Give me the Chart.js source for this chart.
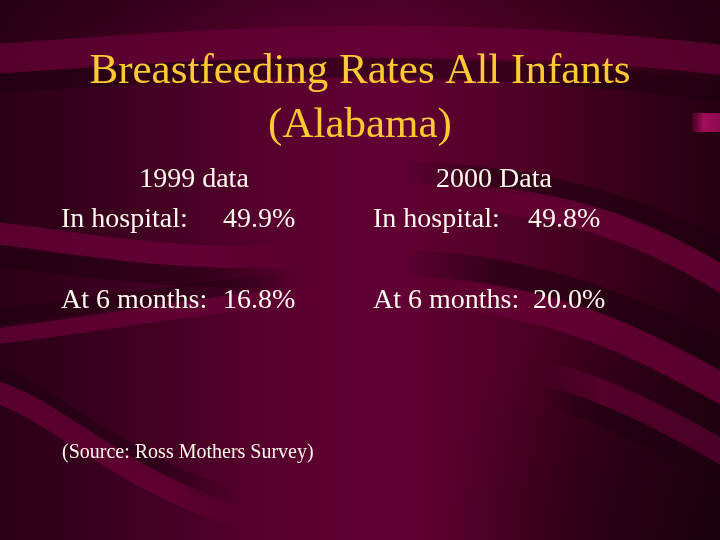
<!DOCTYPE html>
<html>
<head>
<meta charset="utf-8">
<title>Breastfeeding Rates All Infants (Alabama)</title>
<script src="https://cdn.jsdelivr.net/npm/chart.js@4.4.1/dist/chart.umd.min.js"></script>
<style>
  html, body { margin: 0; padding: 0; background: #3a001e; }
  canvas { display: block; }
</style>
</head>
<body>
<canvas id="slideChart" width="720" height="540"></canvas>
<script>
// slide data
const titleLines = ["Breastfeeding Rates All Infants", "(Alabama)"];
const years = ["1999", "2000"];
const yearWords = ["data", "Data"];
const rowLabels = ["In hospital:", "At 6 months:"];
const inHospital = [49.9, 49.8];
const atSixMonths = [16.8, 20.0];
const sourceNote = "(Source: Ross Mothers Survey)";

const serif = "'Liberation Serif', 'Times New Roman', serif";

// one ribbon: bezier path, stroked with a colour that fades out at the open end
function band(ctx, pts, width, rgb, alpha, fadeLeft, fadeRight) {
  const x0 = pts[0], x1 = pts[pts.length - 2];
  const g = ctx.createLinearGradient(x0, 0, x1, 0);
  const c = (a) => "rgba(" + rgb + "," + a + ")";
  g.addColorStop(0, c(fadeLeft ? 0 : alpha));
  g.addColorStop(0.3, c(alpha));
  g.addColorStop(0.7, c(alpha));
  g.addColorStop(1, c(fadeRight ? 0 : alpha));
  ctx.beginPath();
  ctx.moveTo(pts[0], pts[1]);
  for (let i = 2; i < pts.length; i += 6) {
    ctx.bezierCurveTo(pts[i], pts[i + 1], pts[i + 2], pts[i + 3], pts[i + 4], pts[i + 5]);
  }
  ctx.lineWidth = width;
  ctx.strokeStyle = g;
  ctx.lineCap = "butt";
  ctx.stroke();
}

const DARK = "28,0,14";
const LIGHT = "104,0,54";

const backgroundPlugin = {
  id: "slideBackground",
  beforeDraw(chart) {
    const ctx = chart.ctx;
    const w = chart.width, h = chart.height;
    ctx.save();

    const g = ctx.createLinearGradient(0, 0, w, 0);
    g.addColorStop(0, "#2a0015");
    g.addColorStop(0.15, "#3a001e");
    g.addColorStop(0.38, "#58002e");
    g.addColorStop(0.55, "#620034");
    g.addColorStop(0.75, "#4a0022");
    g.addColorStop(1, "#240010");
    ctx.fillStyle = g;
    ctx.fillRect(0, 0, w, h);

    // darker bottom right corner and top edge
    const r = ctx.createRadialGradient(720, 540, 20, 720, 540, 280);
    r.addColorStop(0, "rgba(25,0,12,0.8)");
    r.addColorStop(1, "rgba(25,0,12,0)");
    ctx.fillStyle = r;
    ctx.fillRect(0, 0, w, h);
    const t = ctx.createLinearGradient(0, 0, 0, 60);
    t.addColorStop(0, "rgba(30,0,15,0.35)");
    t.addColorStop(1, "rgba(30,0,15,0)");
    ctx.fillStyle = t;
    ctx.fillRect(0, 0, w, 60);

    // top ribbon with shadow
    band(ctx, [-20, 84, 180, 72, 420, 50, 740, 94], 20, DARK, 0.5, false, false);
    band(ctx, [-20, 60, 180, 46, 420, 24, 740, 62], 30, LIGHT, 0.7, false, false);

    // left ribbon under the first row
    band(ctx, [-20, 256, 60, 262, 160, 282, 300, 278], 20, DARK, 0.5, false, true);
    band(ctx, [-20, 232, 60, 238, 150, 262, 300, 256], 22, LIGHT, 0.8, false, true);

    // ribbon rising from left edge
    band(ctx, [-20, 318, 80, 310, 160, 292, 300, 280], 16, DARK, 0.45, false, true);
    band(ctx, [-20, 338, 80, 328, 170, 308, 320, 294], 16, LIGHT, 0.75, false, true);

    // S-curve ribbon on lower left
    band(ctx, [-20, 370, 40, 378, 100, 458, 240, 500], 18, DARK, 0.45, false, true);
    band(ctx, [-20, 388, 50, 400, 110, 480, 250, 520], 22, LIGHT, 0.75, false, true);

    // ribbons sweeping down to the right
    band(ctx, [400, 172, 560, 176, 660, 215, 740, 262], 22, DARK, 0.6, true, false);
    band(ctx, [430, 195, 580, 200, 660, 240, 740, 290], 26, LIGHT, 0.8, true, false);
    band(ctx, [400, 262, 560, 270, 650, 318, 740, 362], 26, DARK, 0.6, true, false);
    band(ctx, [420, 292, 570, 300, 650, 350, 740, 398], 30, LIGHT, 0.8, true, false);
    band(ctx, [540, 372, 620, 392, 680, 428, 740, 462], 24, LIGHT, 0.6, true, false);
    band(ctx, [540, 395, 620, 415, 680, 455, 740, 488], 20, DARK, 0.55, true, false);

    // small highlight block on the right edge
    const b = ctx.createLinearGradient(692, 0, 720, 0);
    b.addColorStop(0, "rgba(120,0,60,0.4)");
    b.addColorStop(0.4, "#a00d5a");
    b.addColorStop(1, "#8a0a4c");
    ctx.fillStyle = b;
    ctx.fillRect(692, 113, 28, 19);

    ctx.restore();
  }
};

// body text drawn from the arrays above
const textPlugin = {
  id: "slideText",
  afterDraw(chart) {
    const ctx = chart.ctx;
    ctx.save();
    ctx.fillStyle = "#fff8ec";
    ctx.textBaseline = "alphabetic";
    ctx.font = "28px " + serif;

    const headerX = [194, 494];
    const labelX = [61, 373];
    const valueX = [[223, 528], [223, 533]];
    const rowY = [227, 308];
    const rows = [inHospital, atSixMonths];

    years.forEach((yr, i) => {
      ctx.textAlign = "center";
      ctx.fillText(yr + " " + yearWords[i], headerX[i], 187);
      ctx.textAlign = "left";
      rowLabels.forEach((lbl, r) => {
        ctx.fillText(lbl, labelX[i], rowY[r]);
        ctx.fillText(rows[r][i].toFixed(1) + "%", valueX[r][i], rowY[r]);
      });
    });

    ctx.font = "20px " + serif;
    ctx.fillText(sourceNote, 62, 458);
    ctx.restore();
  }
};

new Chart(document.getElementById("slideChart"), {
  type: "bar",
  data: {
    labels: years,
    datasets: [{ label: "In hospital", data: [], hidden: true }]
  },
  options: {
    responsive: false,
    animation: false,
    events: [],
    layout: { padding: 0 },
    scales: {
      x: { display: false },
      y: { display: false }
    },
    plugins: {
      legend: { display: false },
      tooltip: { enabled: false },
      title: {
        display: true,
        text: titleLines,
        color: "#ffc933",
        font: { family: serif, size: 43, weight: "normal", lineHeight: 1.256 },
        padding: { top: 45, bottom: 0 }
      }
    }
  },
  plugins: [backgroundPlugin, textPlugin]
});
</script>
</body>
</html>
